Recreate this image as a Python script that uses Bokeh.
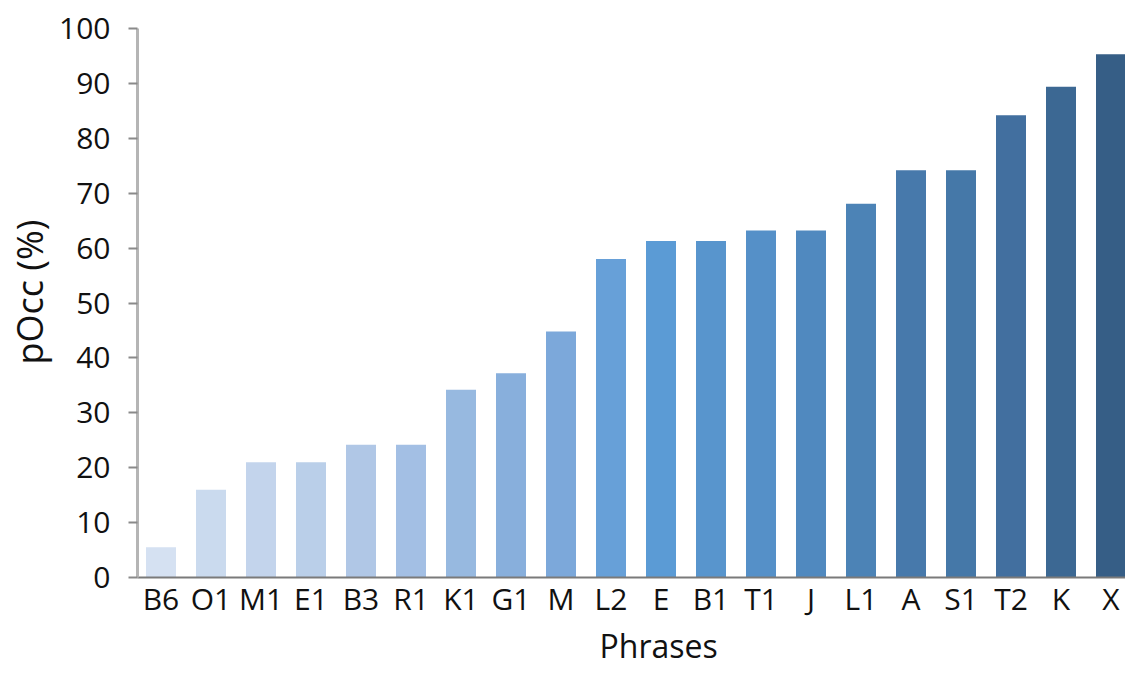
from bokeh.plotting import figure
from bokeh.models import Range1d, FixedTicker, Title, ColumnDataSource
from bokeh.embed import file_html
from bokeh.resources import INLINE

phrases = ["B6", "O1", "M1", "E1", "B3", "R1", "K1", "G1", "M", "L2",
           "E", "B1", "T1", "J", "L1", "A", "S1", "T2", "K", "X"]
pocc = [5.5, 16.0, 21.0, 21.0, 24.2, 24.2, 34.2, 37.2, 44.8, 58.0,
        61.3, 61.3, 63.2, 63.2, 68.1, 74.2, 74.2, 84.2, 89.4, 95.3]
bar_colors = ["#d5e1f2", "#cadaee", "#c3d4ec", "#bacfe9", "#b0c7e6",
              "#a3bfe4", "#97b9e0", "#88afdc", "#7ca8da", "#67a0d8",
              "#5b9bd5", "#5895cd", "#5590c8", "#5089bf", "#4c83b6",
              "#4779ab", "#4578a8", "#426f9f", "#3c6893", "#365e86"]
y_ticks = [0, 10, 20, 30, 40, 50, 60, 70, 80, 90, 100]
x_title = "Phrases"
y_title = "pOcc (%)"

FONT = "Open Sans"

src = ColumnDataSource(dict(x=list(range(len(phrases))), top=pocc, color=bar_colors))

x_start = -0.47
p = figure(width=1125, height=666, output_backend="svg", toolbar_location=None,
           x_range=Range1d(x_start, len(phrases) - 1 + 0.29), y_range=Range1d(0, 100),
           min_border_left=127, min_border_right=0, min_border_top=28, min_border_bottom=88)

p.vbar(x="x", top="top", width=0.6, bottom=0, fill_color="color", line_color=None, source=src)

p.xgrid.visible = False
p.ygrid.visible = False
p.outline_line_color = None
p.background_fill_color = "white"
p.border_fill_color = "white"

yax = p.yaxis[0]
yax.ticker = FixedTicker(ticks=y_ticks)
yax.minor_tick_line_color = None
yax.major_tick_out = 9
yax.major_tick_in = 0
yax.major_tick_line_color = "#8a8a8a"
yax.major_tick_line_width = 2
yax.axis_line_color = "#b5b5b5"
yax.axis_line_width = 3
yax.major_label_text_font = FONT
yax.major_label_text_font_size = "30px"
yax.major_label_text_color = "#111111"
yax.major_label_standoff = 18

xax = p.xaxis[0]
xax.ticker = FixedTicker(ticks=list(range(len(phrases))))
xax.major_label_overrides = {i: name for i, name in enumerate(phrases)}
xax.minor_tick_line_color = None
xax.major_tick_out = 0
xax.major_tick_in = 0
xax.major_tick_line_color = None
xax.axis_line_color = "#7a7a7a"
xax.axis_line_width = 2
xax.major_label_text_font = FONT
xax.major_label_text_font_size = "30px"
xax.major_label_text_color = "#111111"
xax.major_label_standoff = 0

tx = Title(text=x_title, align="left", offset=462, standoff=0,
           text_font=FONT, text_font_size="32px", text_font_style="normal",
           text_color="#111111")
p.add_layout(tx, "below")

ty = Title(text=y_title, align="left", offset=213, standoff=5,
           text_font=FONT, text_font_size="36px", text_font_style="normal",
           text_color="#111111")
p.add_layout(ty, "left")

open("out.html", "w").write(file_html(p, INLINE))
